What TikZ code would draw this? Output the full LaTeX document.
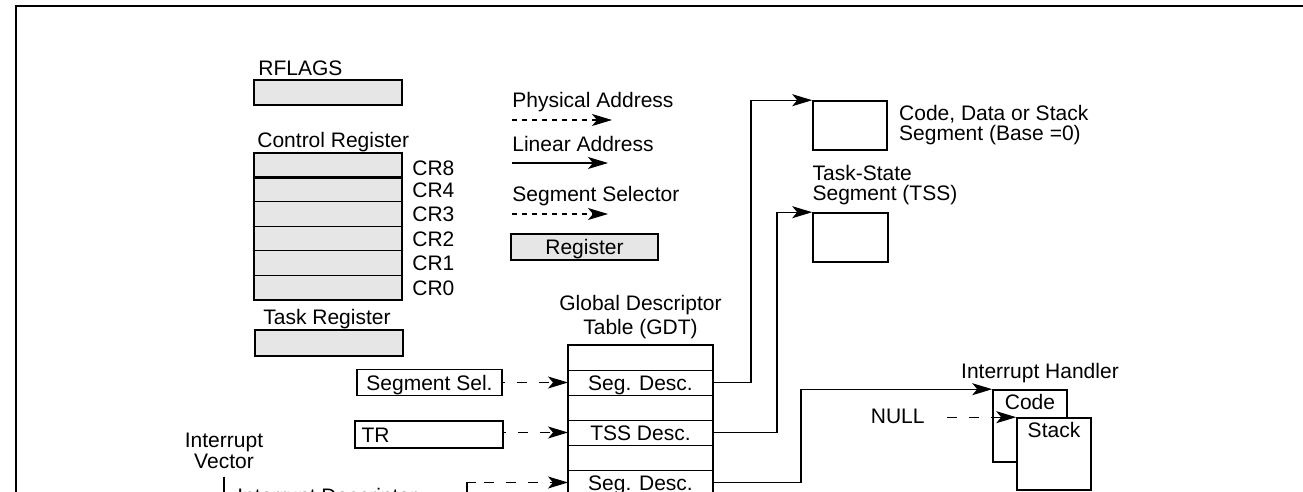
\documentclass[tikz,border=0pt]{standalone}
\usepackage{fontspec}
\setmainfont{Liberation Sans}
\usepackage{tikz}
\usetikzlibrary{arrows.meta,positioning}

\definecolor{regfill}{HTML}{E6E6E6}

\begin{document}
\begin{tikzpicture}[x=0.5pt,y=-0.5pt,
    font=\fontsize{10.5}{12}\selectfont,
    lbl/.style={inner sep=0pt,anchor=west,text height=7.5pt,text depth=0pt},
    mlbl/.style={inner sep=0pt,align=left,font=\fontsize{10.5}{10}\selectfont},
    regbox/.style={draw,line width=0.8pt,fill=regfill,inner sep=0pt,minimum width=74pt,minimum height=12.5pt,
        text height=7.5pt,text depth=0pt},
    crrow/.style={draw,line width=0.5pt,fill=regfill,inner sep=0pt,outer sep=0pt,minimum width=74pt,minimum height=12.25pt},
    segbox/.style={draw,line width=0.8pt,fill=white,inner sep=0pt,minimum width=37pt,minimum height=24.5pt},
    selbox/.style={draw,line width=0.8pt,inner sep=0pt,minimum height=13pt,text height=7.5pt,text depth=0pt},
    gdtrow/.style={draw,line width=0.5pt,inner sep=0pt,outer sep=0pt,minimum width=72.5pt,minimum height=12.5pt,
        text height=7.5pt,text depth=0pt},
    wire/.style={line width=0.55pt},
    link/.style={wire,-{Stealth[length=10pt,width=6pt,inset=2.5pt]}},
    dlink/.style={link,dash pattern=on 5pt off 6pt}]

    \useasboundingbox (0,0) rectangle (1303,492);
    \clip (0,0) rectangle (1303,492);

    % frame
    \draw[line width=0.8pt] (16,500) -- (16,6) -- (1310,6);

    % Define nodes
    \node[lbl] (rflagslbl) at (258,68) {RFLAGS};
    \node[regbox] (rflags) at (328,92.5) {};

    \node[lbl] (crlbl) at (257,140) {Control Register};
    \node[crrow] (cr8) at (328,165.25) {};
    \node[crrow] (cr4) at (328,189.75) {};
    \node[crrow] (cr3) at (328,214.25) {};
    \node[crrow] (cr2) at (328,238.75) {};
    \node[crrow] (cr1) at (328,263.25) {};
    \node[crrow] (cr0) at (328,287.75) {};
    \node[lbl, right=5pt of cr8, yshift=-1.5pt] (cr8lbl) {CR8};
    \node[lbl, right=5pt of cr4] (cr4lbl) {CR4};
    \node[lbl, right=5pt of cr3] (cr3lbl) {CR3};
    \node[lbl, right=5pt of cr2] (cr2lbl) {CR2};
    \node[lbl, right=5pt of cr1] (cr1lbl) {CR1};
    \node[lbl, right=5pt of cr0] (cr0lbl) {CR0};

    \node[lbl] (tasklbl) at (263,317) {Task Register};
    \node[regbox, minimum height=13pt] (taskreg) at (329,343) {};

    % legend
    \node[lbl] (physlbl) at (512,100) {Physical Address};
    \coordinate (phys0) at (512,120);
    \coordinate (phys1) at (612,120);
    \node[lbl] (linlbl) at (512,144) {Linear Address};
    \coordinate (lin0) at (512,163);
    \coordinate (lin1) at (608,163);
    \node[lbl] (sellbl) at (512,194) {Segment Selector};
    \coordinate (sel0) at (512,214);
    \coordinate (sel1) at (608,214);
    \node[regbox, minimum width=73.5pt, minimum height=13pt] (regkey) at (584.5,247) {Register};

    % segments
    \node[segbox] (codeseg) at (850,125.5) {};
    \node[mlbl, right=5.5pt of codeseg] (codelbl) {Code, Data or Stack\\Segment (Base =0)};
    \node[segbox, minimum width=37.5pt] (tssseg) at (850.5,237.5) {};
    \node[mlbl, anchor=south west] (tsslbl) at ([yshift=3.5pt]tssseg.north west) {Task-State\\Segment (TSS)};

    % GDT
    \node[gdtrow] (gdt1) at (640.5,357.5) {};
    \node[gdtrow, below=0pt of gdt1] (gdt2) {Seg. Desc.};
    \node[gdtrow, below=0pt of gdt2] (gdt3) {};
    \node[gdtrow, below=0pt of gdt3] (gdt4) {TSS Desc.};
    \node[gdtrow, below=0pt of gdt4] (gdt5) {};
    \node[gdtrow, below=0pt of gdt5] (gdt6) {Seg. Desc.};
    \node[gdtrow, below=0pt of gdt6] (gdt7) {};
    \node[mlbl, align=center, font=\fontsize{10.5}{12}\selectfont, above=3pt of gdt1] (gdtlbl) {Global Descriptor\\Table (GDT)};

    \node[selbox, minimum width=72.5pt] (segsel) at (429.5,382.5) {Segment Sel.};
    \node[selbox, minimum width=74pt, minimum height=13.5pt] (trreg) at (429,434.5) {};
    \node[lbl, right=3.5pt of trreg.west] (trlbl) {TR};

    \node[mlbl, align=center, font=\fontsize{10.5}{10.5}\selectfont] (ivlbl) at (224,450.5) {Interrupt\\Vector};
    \coordinate (idtv) at (224,500);
    \node[lbl, anchor=north west] (idtlbl) at (237,488) {Interrupt Descriptor};
    \coordinate (idtgate) at (467,492);

    % interrupt handler
    \node[lbl, anchor=center] (handlbl) at (1040,371) {Interrupt Handler};
    \node[segbox, minimum height=36pt] (hcode) at (1030,426) {};
    \node[segbox, minimum height=36pt] (hstack) at (1054,454) {};
    \node[lbl, below=2.5pt of hcode.north] (hcodelbl) {Code};
    \node[lbl, below=2.5pt of hstack.north] (hstacklbl) {Stack};
    \node[lbl, anchor=east] (nulllbl) at (925,416) {NULL};

    % outer lines
    \draw[line width=0.8pt] (cr8.north west) rectangle (cr0.south east);
    \draw[line width=1.1pt] (cr8.south west) -- (cr8.south east);
    \draw[line width=0.8pt] (gdt7.south west) -- (gdt1.north west) -- (gdt1.north east) -- (gdt7.south east);

    % Draw arrows
    \draw[link, dash pattern=on 2.5pt off 2.5pt] (phys0) -- (phys1);
    \draw[link] (lin0) -- (lin1);
    \draw[link, dash pattern=on 2.5pt off 2.5pt] (sel0) -- (sel1);

    \draw[dlink, dash phase=4pt] (segsel.east) -- (gdt2.west);
    \draw[dlink, dash phase=4pt] (trreg.east |- gdt4.west) -- (gdt4.west);
    \draw[link, dash pattern=on 9pt off 4pt on 5pt off 6pt on 5pt off 6pt on 5pt off 6pt on 5pt off 6pt] (idtgate) |- (gdt6.west);

    \draw[link] (gdt2.east) -- ++(38,0) |- (codeseg.north west);
    \draw[link] (gdt4.east) -- ++(64,0) |- (tssseg.north west);
    \draw[link] (gdt6.east) -- ++(88,0) |- (hcode.north west);
    \draw[dlink] ([xshift=11pt]nulllbl.east |- hstack.north west) -- (hstack.north west);

    \draw[wire] ([yshift=-4pt]ivlbl.south) -- (idtv);
\end{tikzpicture}
\end{document}
